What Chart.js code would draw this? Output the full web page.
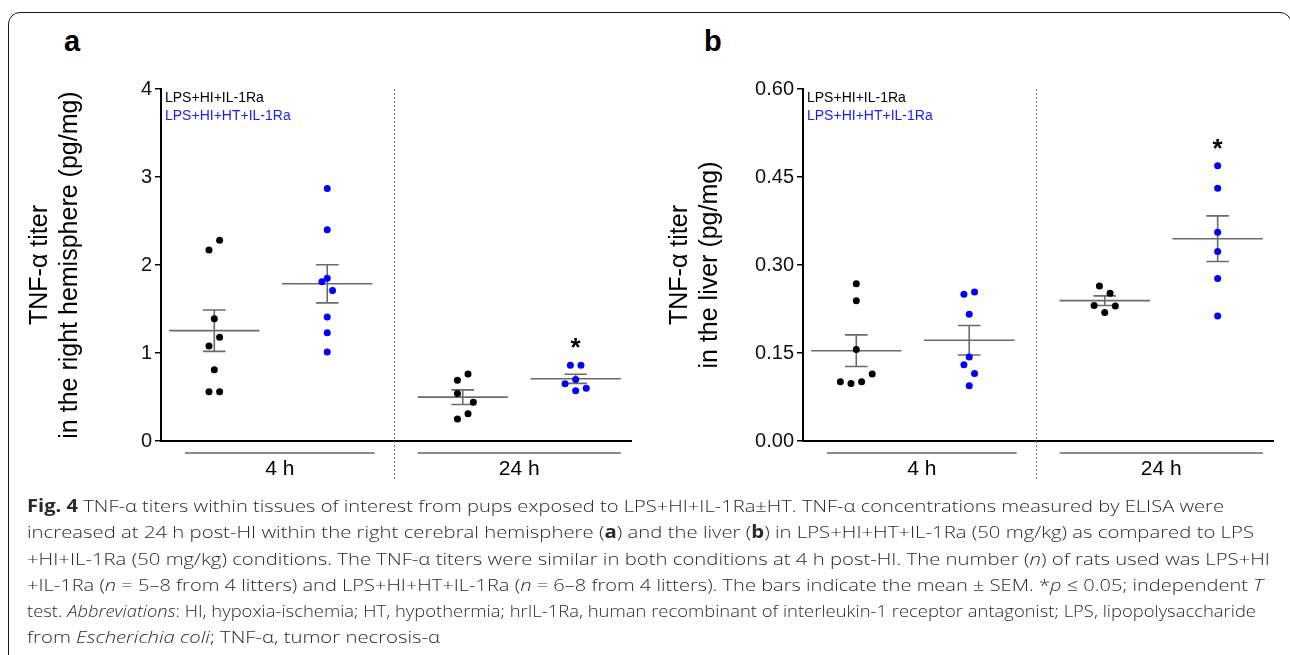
<!DOCTYPE html>
<html>
<head>
<meta charset="utf-8">
<script src="https://cdn.jsdelivr.net/npm/chart.js@4.4.1/dist/chart.umd.min.js"></script>
<style>
  body { margin: 0; width: 1290px; height: 655px; overflow: hidden; background: #fff; position: relative; }
  #frame { position: absolute; left: 8px; top: 12px; width: 1284px; height: 700px; border: 1.5px solid #1a1a1a; border-radius: 12px; box-sizing: border-box; }
  .tag { position: absolute; font: bold 29px Arial, "Liberation Sans", sans-serif; line-height: 29px; color: #000; }
  canvas { position: absolute; top: 0; }
  #caption { position: absolute; left: 27px; top: 493px; font-family: "Open Sans", sans-serif; font-weight: 300; font-size: 17px; line-height: 26.25px; color: #2a2a2a; white-space: nowrap; }
  #caption div { height: 26.25px; }
  #caption span.ln { display: inline-block; transform-origin: 0 50%; }
  #caption b { font-weight: 700; }
</style>
</head>
<body>
<div id="frame"></div>
<div class="tag" style="left:64px;top:27px">a</div>
<div class="tag" style="left:704px;top:27px">b</div>
<canvas id="chartA" width="640" height="500" style="left:0"></canvas>
<canvas id="chartB" width="650" height="500" style="left:640px"></canvas>
<div id="caption">
<div><span class="ln"><b>Fig. 4</b> TNF-α titers within tissues of interest from pups exposed to LPS+HI+IL-1Ra±HT. TNF-α concentrations measured by ELISA were</span></div>
<div><span class="ln">increased at 24 h post-HI within the right cerebral hemisphere (<b>a</b>) and the liver (<b>b</b>) in LPS+HI+HT+IL-1Ra (50 mg/kg) as compared to LPS</span></div>
<div><span class="ln">+HI+IL-1Ra (50 mg/kg) conditions. The TNF-α titers were similar in both conditions at 4 h post-HI. The number (<i>n</i>) of rats used was LPS+HI</span></div>
<div><span class="ln">+IL-1Ra (<i>n</i> = 5–8 from 4 litters) and LPS+HI+HT+IL-1Ra (<i>n</i> = 6–8 from 4 litters). The bars indicate the mean ± SEM. *<i>p</i> ≤ 0.05; independent <i>T</i></span></div>
<div><span class="ln">test. <i>Abbreviations</i>: HI, hypoxia-ischemia; HT, hypothermia; hrIL-1Ra, human recombinant of interleukin-1 receptor antagonist; LPS, lipopolysaccharide</span></div>
<div><span class="ln">from <i>Escherichia coli</i>; TNF-α, tumor necrosis-α</span></div>
</div>
<script>
// groups: 4 h LPS+HI+IL-1Ra, 4 h +HT, 24 h LPS+HI+IL-1Ra, 24 h +HT
var groupPos = [1, 2, 3.2, 4.2];
var groupColor = ['#000000', '#0000ff', '#000000', '#0000ff'];
var legendLabels = ['LPS+HI+IL-1Ra', 'LPS+HI+HT+IL-1Ra'];
var legendColor = ['#000000', '#1a1aff'];
var timeLabels = ['4 h', '24 h'];

// a: right hemisphere (pg/mg)
var hemi4hLps = [2.17, 2.28, 1.39, 1.08, 1.18, 0.81, 0.56, 0.56];
var hemi4hHt = [2.87, 2.40, 1.81, 1.85, 1.71, 1.41, 1.23, 1.01];
var hemi24hLps = [0.69, 0.76, 0.54, 0.44, 0.31, 0.25];
var hemi24hHt = [0.86, 0.86, 0.70, 0.65, 0.60, 0.57];
var hemiJitter = [[-1, 1, 0, -1, 1, 0, -1, 1], [0, 0, -1, 0, 1, 0, 0, 0], [-1, 1, -1, 2, 1, -1], [-1, 1, 0, -2, 2, 0]];
var hemiTickVals = [0, 1, 2, 3, 4];
var hemiTickLabels = ['0', '1', '2', '3', '4'];

// b: liver (pg/mg)
var liver4hLps = [0.268, 0.239, 0.156, 0.114, 0.101, 0.098, 0.101];
var liver4hHt = [0.250, 0.254, 0.216, 0.143, 0.130, 0.115, 0.094];
var liver24hLps = [0.264, 0.252, 0.231, 0.230, 0.219];
var liver24hHt = [0.469, 0.431, 0.356, 0.323, 0.277, 0.213];
var liverJitter = [[0, 0, 0, 3, -3, -1, 1], [-1, 1, 0, 0, -1, 1, 0], [-1, 1, -2, 2, 0], [0, 0, 0, 0, 0, 0]];
var liverTickVals = [0, 0.15, 0.30, 0.45, 0.60];
var liverTickLabels = ['0.00', '0.15', '0.30', '0.45', '0.60'];

var FONT = 'Arial, "Liberation Sans", sans-serif';
var jitterStep = 0.047;

function stats(vals) {
  var n = vals.length;
  var m = vals.reduce(function (a, b) { return a + b; }, 0) / n;
  var ss = vals.reduce(function (a, b) { return a + (b - m) * (b - m); }, 0);
  return { mean: m, sem: Math.sqrt(ss / (n - 1)) / Math.sqrt(n) };
}

function decor(series) {
  return {
    id: 'decor',
    beforeDatasetsDraw: function (chart) {
      var ctx = chart.ctx, x = chart.scales.x, y = chart.scales.y;
      ctx.save();
      ctx.strokeStyle = '#6a6a6a';
      ctx.lineWidth = 1.6;
      series.forEach(function (vals, i) {
        var s = stats(vals);
        var cx = x.getPixelForValue(groupPos[i]);
        var half = x.getPixelForValue(groupPos[i] + 0.4) - cx;
        var cap = x.getPixelForValue(groupPos[i] + 0.1) - cx;
        var ym = y.getPixelForValue(s.mean);
        var yh = y.getPixelForValue(s.mean + s.sem);
        var yl = y.getPixelForValue(s.mean - s.sem);
        ctx.beginPath();
        ctx.moveTo(cx - half, ym); ctx.lineTo(cx + half, ym);
        ctx.moveTo(cx, yh); ctx.lineTo(cx, yl);
        ctx.moveTo(cx - cap, yh); ctx.lineTo(cx + cap, yh);
        ctx.moveTo(cx - cap, yl); ctx.lineTo(cx + cap, yl);
        ctx.stroke();
      });
      ctx.restore();
    },
    afterDraw: function (chart) {
      var ctx = chart.ctx, ca = chart.chartArea, x = chart.scales.x, y = chart.scales.y;
      ctx.save();
      // dotted divider between the two time points
      var dx = Math.round(x.getPixelForValue(2.588)) + 0.5;
      ctx.strokeStyle = '#777';
      ctx.lineWidth = 1;
      ctx.setLineDash([2, 2]);
      ctx.beginPath(); ctx.moveTo(dx, ca.top); ctx.lineTo(dx, ca.bottom + 40); ctx.stroke();
      ctx.setLineDash([]);

      // time bars under the axis
      var spans = [[0.74, 2.42], [2.80, 4.60]];
      ctx.strokeStyle = '#666';
      ctx.lineWidth = 1.5;
      ctx.fillStyle = '#000';
      ctx.font = '21px ' + FONT;
      ctx.textAlign = 'center';
      ctx.textBaseline = 'middle';
      timeLabels.forEach(function (t, i) {
        var x0 = x.getPixelForValue(spans[i][0]), x1 = x.getPixelForValue(spans[i][1]);
        ctx.beginPath(); ctx.moveTo(x0, ca.bottom + 12); ctx.lineTo(x1, ca.bottom + 12); ctx.stroke();
        ctx.fillText(t, (x0 + x1) / 2, ca.bottom + 28);
      });

      // legend text
      ctx.textAlign = 'left';
      ctx.font = '14px ' + FONT;
      legendLabels.forEach(function (t, i) {
        ctx.fillStyle = legendColor[i];
        ctx.fillText(t, ca.left + 4, ca.top + 9 + i * 18);
      });

      // significance mark over 24 h +HT
      var top = Math.max.apply(null, series[3]);
      ctx.fillStyle = '#000';
      ctx.font = 'bold 26px ' + FONT;
      ctx.textAlign = 'center';
      ctx.textBaseline = 'alphabetic';
      ctx.fillText('*', x.getPixelForValue(groupPos[3]), y.getPixelForValue(top) - 24 + 15);
      ctx.restore();
    }
  };
}

function buildPanel(id, series, jitter, tickVals, tickLabels, yMax, title, yWidth, padRight) {
  var datasets = series.map(function (vals, i) {
    return {
      data: vals.map(function (v, j) { return { x: groupPos[i] + jitter[i][j] * jitterStep, y: v }; }),
      backgroundColor: groupColor[i],
      borderWidth: 0,
      pointRadius: 3.5
    };
  });
  return new Chart(document.getElementById(id), {
    type: 'scatter',
    data: { datasets: datasets },
    plugins: [decor(series)],
    options: {
      responsive: false,
      animation: false,
      events: [],
      layout: { padding: { top: 89, right: padRight, left: 0, bottom: 0 } },
      plugins: { legend: { display: false }, tooltip: { enabled: false } },
      scales: {
        x: {
          type: 'linear', min: 0.528, max: 4.69,
          ticks: { display: false },
          grid: { display: false },
          border: { display: true, color: '#000', width: 2 },
          afterFit: function (s) { s.height = 59; }
        },
        y: {
          min: 0, max: yMax,
          afterBuildTicks: function (s) { s.ticks = tickVals.map(function (v) { return { value: v }; }); },
          ticks: {
            color: '#111', padding: 3,
            font: { family: FONT, size: 20 },
            callback: function (v, i) { return tickLabels[i]; }
          },
          grid: { display: true, drawOnChartArea: false, drawTicks: true, tickLength: 6, color: '#000', lineWidth: 1.5 },
          border: { display: true, color: '#000', width: 2 },
          title: {
            display: true, text: title, color: '#000',
            font: { family: FONT, size: 25, lineHeight: 1.2 },
            padding: { top: 25, bottom: 0 }
          },
          afterFit: function (s) { s.width = yWidth; }
        }
      }
    }
  });
}

buildPanel('chartA', [hemi4hLps, hemi4hHt, hemi24hLps, hemi24hHt], hemiJitter, hemiTickVals, hemiTickLabels, 4,
  ['TNF-α titer', 'in the right hemisphere (pg/mg)'], 161, 9);
buildPanel('chartB', [liver4hLps, liver4hHt, liver24hLps, liver24hHt], liverJitter, liverTickVals, liverTickLabels, 0.6,
  ['TNF-α titer', 'in the liver (pg/mg)'], 163, 17);

// the caption in the figure is set wide; stretch each line to its printed width
var lineWidths = [1197, 1227, 1243, 1236, 1229, 413];
function fitCaption() {
  var lines = document.querySelectorAll('#caption span.ln');
  lines.forEach(function (el, i) {
    el.style.transform = 'none';
    var w = el.getBoundingClientRect().width;
    el.style.transform = 'scaleX(' + (lineWidths[i] / w) + ')';
  });
}
fitCaption();
if (document.fonts && document.fonts.ready) document.fonts.ready.then(fitCaption);
</script>
</body>
</html>
